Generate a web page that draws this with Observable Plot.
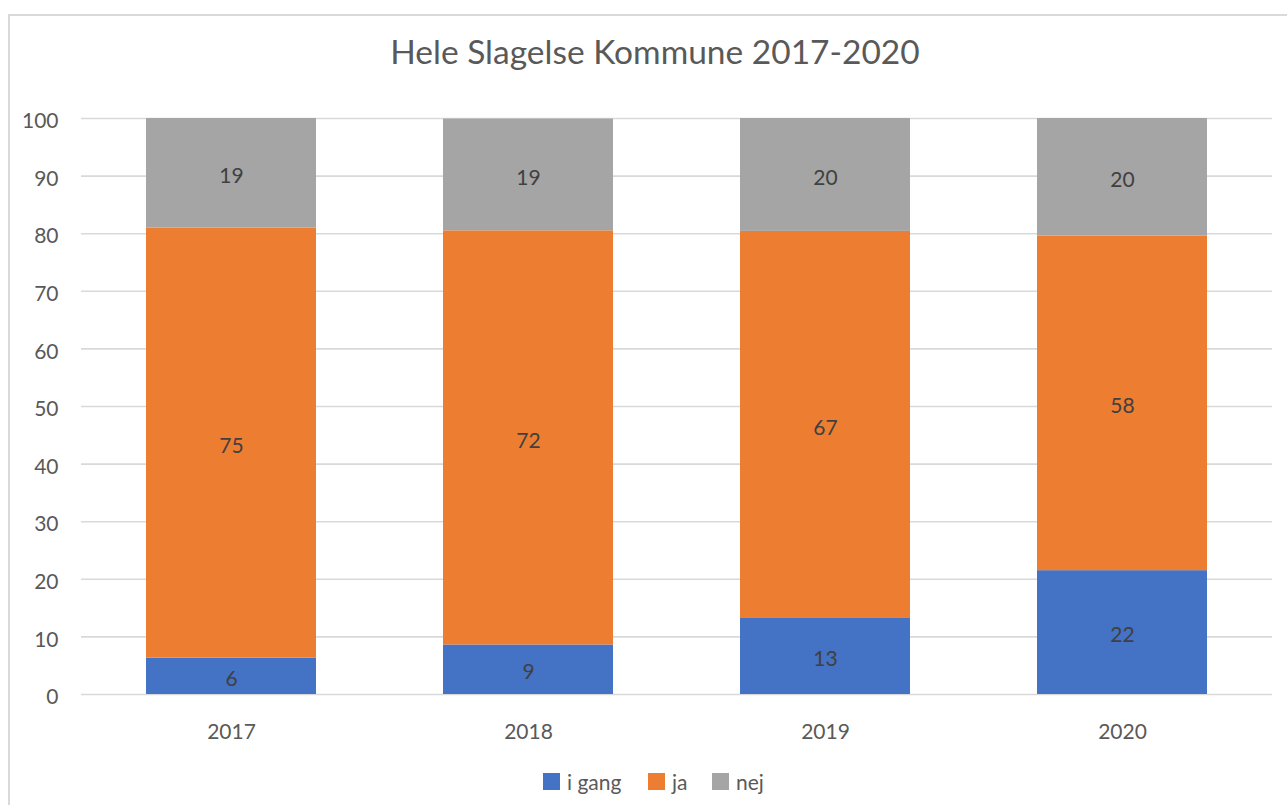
<!DOCTYPE html>
<html>
<head>
<meta charset="utf-8">
<script src="https://cdn.jsdelivr.net/npm/d3@7"></script>
<script src="https://cdn.jsdelivr.net/npm/@observablehq/plot@0.6"></script>
<style>
  html, body { margin: 0; padding: 0; background: #fff; width: 1287px; height: 805px; overflow: hidden; }
  body { font-family: Lato, "Open Sans", sans-serif; position: relative; }
  #frame { position: absolute; left: 8px; top: 14px; width: 1300px; height: 820px; border: 2px solid #d9d9d9; box-sizing: border-box; }
  #title { position: absolute; left: 0; width: 1310px; top: 31px; text-align: center; font-size: 33.5px; line-height: 1.2; color: #595959; }
  #chart { position: absolute; left: 0; top: 90px; }
  #legend { position: absolute; top: 769px; left: 0; width: 1287px; font-size: 21px; line-height: 1.2; color: #595959; }
  .item { position: absolute; top: 0; display: flex; align-items: center; }
  .sw { width: 17px; height: 17px; margin-right: 7px; }
</style>
</head>
<body>
<div id="frame"></div>
<div id="title">Hele Slagelse Kommune 2017-2020</div>
<div id="chart"></div>
<div id="legend"></div>
<script>
const years = ["2017", "2018", "2019", "2020"];
const seriesNames = ["i gang", "ja", "nej"];
const iGang = [6.3, 8.6, 13.2, 21.5];
const ja = [74.7, 71.9, 67.2, 58.1];
const nej = [19.0, 19.4, 19.6, 20.4];
const yTicks = [0, 10, 20, 30, 40, 50, 60, 70, 80, 90, 100];
const colors = ["#4472C4", "#ED7D31", "#A5A5A5"];

const seriesValues = [iGang, ja, nej];
const data = [];
years.forEach((yr, i) => {
  seriesNames.forEach((s, j) => data.push({year: yr, series: s, value: seriesValues[j][i]}));
});

const plot = Plot.plot({
  width: 1287,
  height: 660,
  marginLeft: 81,
  marginRight: 15,
  marginTop: 28,
  marginBottom: 56,
  style: {fontFamily: "Lato, 'Open Sans', sans-serif", fontSize: "21px", color: "#595959", background: "transparent"},
  x: {domain: years, paddingInner: 0.426, paddingOuter: 0.213, label: null},
  y: {domain: [0, 100], label: null},
  color: {domain: seriesNames, range: colors},
  marks: [
    Plot.ruleY(yTicks, {stroke: "#d9d9d9", strokeWidth: 1.6}),
    Plot.axisY({ticks: yTicks, tickSize: 0, tickPadding: 23, label: null, fontSize: 21, fill: "#595959", dy: 3}),
    Plot.axisX({tickSize: 0, tickPadding: 30, label: null, fontSize: 21, fill: "#595959"}),
    Plot.barY(data, Plot.stackY({x: "year", y: "value", fill: "series", z: "series", inset: 0})),
    Plot.text(data, Plot.stackY({x: "year", y: "value", z: "series", text: d => String(Math.round(d.value)), fill: "#404040", fontSize: 21, dy: 3}))
  ]
});
document.getElementById("chart").appendChild(plot);

const legend = document.getElementById("legend");
const lx = [543, 648, 712];
seriesNames.forEach((s, i) => {
  const it = document.createElement("div");
  it.className = "item";
  it.style.left = lx[i] + "px";
  const sw = document.createElement("div");
  sw.className = "sw";
  sw.style.background = colors[i];
  const t = document.createElement("span");
  t.textContent = s;
  it.appendChild(sw);
  it.appendChild(t);
  legend.appendChild(it);
});
</script>
</body>
</html>
